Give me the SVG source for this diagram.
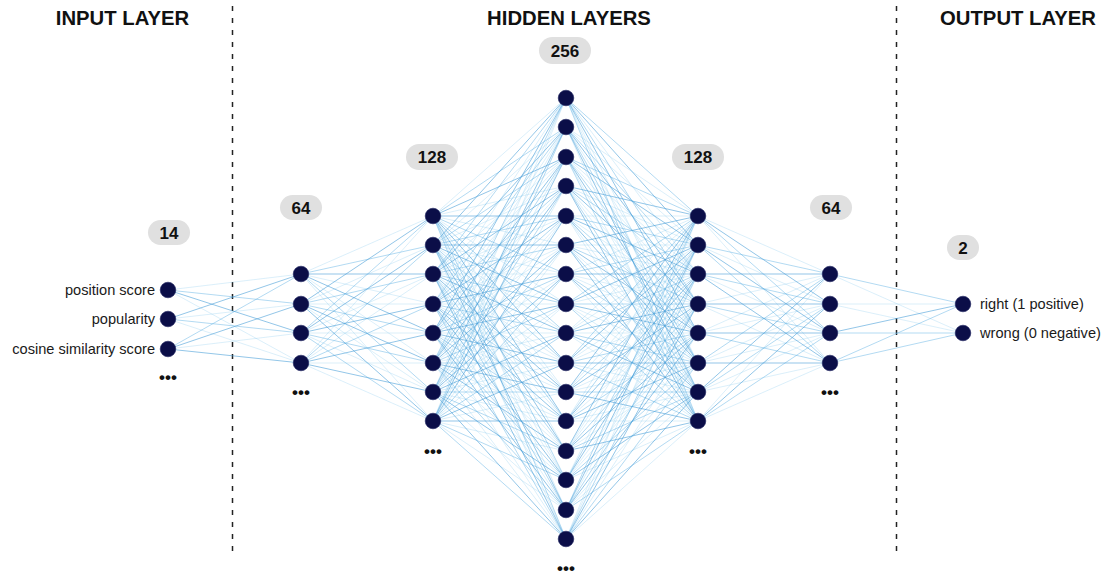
<svg xmlns="http://www.w3.org/2000/svg" width="1106" height="577" viewBox="0 0 1106 577">
  <style>
    .hdr { font-family: "Liberation Sans", Arial, sans-serif; font-weight: bold; font-size: 20.3px; fill: #111; text-anchor: middle; }
    .cnt { font-family: "Liberation Sans", Arial, sans-serif; font-weight: bold; font-size: 17px; fill: #111; text-anchor: middle; }
    .lbl { font-family: "Liberation Sans", Arial, sans-serif; font-size: 14.6px; fill: #1a1a1a; }
    .more { font-family: "Liberation Sans", Arial, sans-serif; font-weight: bold; font-size: 17px; fill: #111; text-anchor: middle; }
    .pill { fill: #e0e0e0; }
    .divider { stroke: #222; stroke-width: 1.5; stroke-dasharray: 5 7; fill: none; }
    .ea { stroke: #7cc3ec; stroke-opacity: 0.35; stroke-width: 0.8; fill: none; }
    .eb { stroke: #5fb2e4; stroke-opacity: 0.6; stroke-width: 0.8; fill: none; }
    .ec { stroke: #4a9fd8; stroke-opacity: 0.75; stroke-width: 0.8; fill: none; }
    .node circle { fill: #0b0e48; stroke: #1f2460; stroke-width: 0.6; }
  </style>
  <rect width="1106" height="577" fill="#ffffff"/>

  <!-- section dividers -->
  <line class="divider" x1="232.5" y1="6" x2="232.5" y2="556"/>
  <line class="divider" x1="896.5" y1="6" x2="896.5" y2="556"/>

  <!-- section headings -->
  <text class="hdr" x="122.5" y="25">INPUT LAYER</text>
  <text class="hdr" x="569" y="25">HIDDEN LAYERS</text>
  <text class="hdr" x="1018" y="25">OUTPUT LAYER</text>

  <!-- connections between layers -->
  <g id="connectors">
    <!-- input -> 64 -->
    <path class="ea" d="M168 290L301 274M168 290L301 363M168 319L301 304M168 319L301 363M168 349L301 333"/>
    <path class="eb" d="M168 290L301 304M168 319L301 333M168 349L301 274"/>
    <path class="ec" d="M168 290L301 333M168 319L301 274M168 349L301 304M168 349L301 363"/>
    <!-- 64 -> 128 -->
    <path class="ea" d="M301 274L433 216M301 274L433 304M301 274L433 363M301 274L433 421M301 304L433 245M301 304L433 304M301 304L433 392M301 333L433 274M301 333L433 333M301 333L433 392M301 363L433 216M301 363L433 274M301 363L433 363M301 363L433 421"/>
    <path class="eb" d="M301 274L433 245M301 274L433 392M301 304L433 274M301 304L433 333M301 333L433 216M301 333L433 363M301 333L433 421M301 363L433 245M301 363L433 304"/>
    <path class="ec" d="M301 274L433 274M301 274L433 333M301 304L433 216M301 304L433 363M301 304L433 421M301 333L433 245M301 333L433 304M301 363L433 333M301 363L433 392"/>
    <!-- 128 -> 256 -->
    <path class="ea" d="M433 216L566 98M433 216L566 186M433 216L566 245M433 216L566 304M433 216L566 392M433 216L566 451M433 216L566 510
      M433 245L566 127M433 245L566 186M433 245L566 274M433 245L566 333M433 245L566 392M433 245L566 480M433 245L566 539
      M433 274L566 157M433 274L566 216M433 274L566 274M433 274L566 363M433 274L566 421M433 274L566 480
      M433 304L566 98M433 304L566 157M433 304L566 245M433 304L566 304M433 304L566 363M433 304L566 451M433 304L566 510
      M433 333L566 127M433 333L566 186M433 333L566 245M433 333L566 333M433 333L566 392M433 333L566 451M433 333L566 539
      M433 363L566 127M433 363L566 216M433 363L566 274M433 363L566 333M433 363L566 421M433 363L566 480M433 363L566 539
      M433 392L566 98M433 392L566 157M433 392L566 216M433 392L566 304M433 392L566 363M433 392L566 421M433 392L566 510
      M433 421L566 98M433 421L566 186M433 421L566 245M433 421L566 304M433 421L566 392M433 421L566 451M433 421L566 510"/>
    <path class="eb" d="M433 216L566 127M433 216L566 274M433 216L566 333M433 216L566 480M433 216L566 539
      M433 245L566 157M433 245L566 216M433 245L566 363M433 245L566 421
      M433 274L566 98M433 274L566 245M433 274L566 304M433 274L566 451M433 274L566 510
      M433 304L566 127M433 304L566 186M433 304L566 333M433 304L566 392M433 304L566 539
      M433 333L566 216M433 333L566 274M433 333L566 421M433 333L566 480
      M433 363L566 98M433 363L566 157M433 363L566 304M433 363L566 363M433 363L566 510
      M433 392L566 186M433 392L566 245M433 392L566 392M433 392L566 451
      M433 421L566 127M433 421L566 274M433 421L566 333M433 421L566 480M433 421L566 539"/>
    <path class="ec" d="M433 216L566 157M433 216L566 216M433 216L566 363M433 216L566 421
      M433 245L566 98M433 245L566 245M433 245L566 304M433 245L566 451M433 245L566 510
      M433 274L566 127M433 274L566 186M433 274L566 333M433 274L566 392M433 274L566 539
      M433 304L566 216M433 304L566 274M433 304L566 421M433 304L566 480
      M433 333L566 98M433 333L566 157M433 333L566 304M433 333L566 363M433 333L566 510
      M433 363L566 186M433 363L566 245M433 363L566 392M433 363L566 451
      M433 392L566 127M433 392L566 274M433 392L566 333M433 392L566 480M433 392L566 539
      M433 421L566 157M433 421L566 216M433 421L566 363M433 421L566 421"/>
    <!-- 256 -> 128 -->
    <path class="ea" d="M566 98L698 274M566 98L698 363M566 98L698 392
      M566 127L698 216M566 127L698 245M566 127L698 333M566 127L698 421
      M566 157L698 274M566 157L698 304M566 157L698 392
      M566 186L698 245M566 186L698 333M566 186L698 363
      M566 216L698 216M566 216L698 304M566 216L698 392M566 216L698 421
      M566 245L698 245M566 245L698 274M566 245L698 363
      M566 274L698 216M566 274L698 304M566 274L698 333M566 274L698 421
      M566 304L698 274M566 304L698 363M566 304L698 392
      M566 333L698 216M566 333L698 245M566 333L698 333M566 333L698 421
      M566 363L698 274M566 363L698 304M566 363L698 392
      M566 392L698 245M566 392L698 333M566 392L698 363
      M566 421L698 216M566 421L698 304M566 421L698 392M566 421L698 421
      M566 451L698 245M566 451L698 274M566 451L698 363
      M566 480L698 216M566 480L698 304M566 480L698 333M566 480L698 421
      M566 510L698 274M566 510L698 363M566 510L698 392
      M566 539L698 216M566 539L698 245M566 539L698 333M566 539L698 421"/>
    <path class="eb" d="M566 98L698 216M566 98L698 304M566 98L698 421
      M566 127L698 274M566 127L698 363
      M566 157L698 216M566 157L698 333M566 157L698 421
      M566 186L698 274M566 186L698 392
      M566 216L698 245M566 216L698 333
      M566 245L698 304M566 245L698 392
      M566 274L698 245M566 274L698 363
      M566 304L698 216M566 304L698 304M566 304L698 421
      M566 333L698 274M566 333L698 363
      M566 363L698 216M566 363L698 333M566 363L698 421
      M566 392L698 274M566 392L698 392
      M566 421L698 245M566 421L698 333
      M566 451L698 304M566 451L698 392
      M566 480L698 245M566 480L698 363
      M566 510L698 216M566 510L698 304M566 510L698 421
      M566 539L698 274M566 539L698 363"/>
    <path class="ec" d="M566 98L698 245M566 98L698 333
      M566 127L698 304M566 127L698 392
      M566 157L698 245M566 157L698 363
      M566 186L698 216M566 186L698 304M566 186L698 421
      M566 216L698 274M566 216L698 363
      M566 245L698 216M566 245L698 333M566 245L698 421
      M566 274L698 274M566 274L698 392
      M566 304L698 245M566 304L698 333
      M566 333L698 304M566 333L698 392
      M566 363L698 245M566 363L698 363
      M566 392L698 216M566 392L698 304M566 392L698 421
      M566 421L698 274M566 421L698 363
      M566 451L698 216M566 451L698 333M566 451L698 421
      M566 480L698 274M566 480L698 392
      M566 510L698 245M566 510L698 333
      M566 539L698 304M566 539L698 392"/>
    <!-- 128 -> 64 -->
    <path class="ea" d="M698 216L830 274M698 216L830 363M698 245L830 304M698 274L830 333M698 304L830 274M698 304L830 363M698 333L830 274M698 333L830 304M698 363L830 304M698 363L830 333M698 392L830 333M698 392L830 363M698 421L830 274M698 421L830 363"/>
    <path class="eb" d="M698 216L830 333M698 245L830 274M698 245L830 363M698 274L830 304M698 304L830 333M698 333L830 363M698 363L830 274M698 392L830 304M698 421L830 333"/>
    <path class="ec" d="M698 216L830 304M698 245L830 333M698 274L830 274M698 274L830 363M698 304L830 304M698 333L830 333M698 363L830 363M698 392L830 274M698 421L830 304"/>
    <!-- 64 -> output -->
    <path class="ea" d="M830 274L963 333M830 304L963 304M830 304L963 333"/>
    <path class="eb" d="M830 274L963 304M830 333L963 333M830 363L963 304M830 363L963 333"/>
    <path class="ec" d="M830 333L963 304"/>
  </g>

  <!-- input layer -->
  <g id="layer-input" class="node">
    <rect class="pill" x="148" y="220" width="42" height="25" rx="12.5"/>
    <text class="cnt" x="169" y="238.5">14</text>
    <circle cx="168" cy="290" r="7.8"/>
    <circle cx="168" cy="319" r="7.8"/>
    <circle cx="168" cy="349" r="7.8"/>
    <text class="lbl" x="155" y="295" text-anchor="end">position score</text>
    <text class="lbl" x="155" y="324" text-anchor="end">popularity</text>
    <text class="lbl" x="155" y="354" text-anchor="end">cosine similarity score</text>
    <text class="more" x="168" y="383">•••</text>
  </g>

  <!-- hidden layer 1 -->
  <g id="layer-hidden-64a" class="node">
    <rect class="pill" x="280" y="195" width="42" height="25" rx="12.5"/>
    <text class="cnt" x="301" y="213.5">64</text>
    <circle cx="301" cy="274" r="7.8"/>
    <circle cx="301" cy="304" r="7.8"/>
    <circle cx="301" cy="333" r="7.8"/>
    <circle cx="301" cy="363" r="7.8"/>
    <text class="more" x="301" y="398">•••</text>
  </g>

  <!-- hidden layer 2 -->
  <g id="layer-hidden-128a" class="node">
    <rect class="pill" x="406" y="144" width="52" height="26" rx="13"/>
    <text class="cnt" x="432" y="163">128</text>
    <circle cx="433" cy="216" r="7.8"/>
    <circle cx="433" cy="245" r="7.8"/>
    <circle cx="433" cy="274" r="7.8"/>
    <circle cx="433" cy="304" r="7.8"/>
    <circle cx="433" cy="333" r="7.8"/>
    <circle cx="433" cy="363" r="7.8"/>
    <circle cx="433" cy="392" r="7.8"/>
    <circle cx="433" cy="421" r="7.8"/>
    <text class="more" x="433" y="457">•••</text>
  </g>

  <!-- hidden layer 3 -->
  <g id="layer-hidden-256" class="node">
    <rect class="pill" x="539" y="37" width="52" height="27" rx="13.5"/>
    <text class="cnt" x="565" y="56.5">256</text>
    <circle cx="566" cy="98" r="7.8"/>
    <circle cx="566" cy="127" r="7.8"/>
    <circle cx="566" cy="157" r="7.8"/>
    <circle cx="566" cy="186" r="7.8"/>
    <circle cx="566" cy="216" r="7.8"/>
    <circle cx="566" cy="245" r="7.8"/>
    <circle cx="566" cy="274" r="7.8"/>
    <circle cx="566" cy="304" r="7.8"/>
    <circle cx="566" cy="333" r="7.8"/>
    <circle cx="566" cy="363" r="7.8"/>
    <circle cx="566" cy="392" r="7.8"/>
    <circle cx="566" cy="421" r="7.8"/>
    <circle cx="566" cy="451" r="7.8"/>
    <circle cx="566" cy="480" r="7.8"/>
    <circle cx="566" cy="510" r="7.8"/>
    <circle cx="566" cy="539" r="7.8"/>
    <text class="more" x="566" y="574">•••</text>
  </g>

  <!-- hidden layer 4 -->
  <g id="layer-hidden-128b" class="node">
    <rect class="pill" x="672" y="144" width="52" height="26" rx="13"/>
    <text class="cnt" x="698" y="163">128</text>
    <circle cx="698" cy="216" r="7.8"/>
    <circle cx="698" cy="245" r="7.8"/>
    <circle cx="698" cy="274" r="7.8"/>
    <circle cx="698" cy="304" r="7.8"/>
    <circle cx="698" cy="333" r="7.8"/>
    <circle cx="698" cy="363" r="7.8"/>
    <circle cx="698" cy="392" r="7.8"/>
    <circle cx="698" cy="421" r="7.8"/>
    <text class="more" x="698" y="457">•••</text>
  </g>

  <!-- hidden layer 5 -->
  <g id="layer-hidden-64b" class="node">
    <rect class="pill" x="810" y="195" width="42" height="25" rx="12.5"/>
    <text class="cnt" x="831" y="213.5">64</text>
    <circle cx="830" cy="274" r="7.8"/>
    <circle cx="830" cy="304" r="7.8"/>
    <circle cx="830" cy="333" r="7.8"/>
    <circle cx="830" cy="363" r="7.8"/>
    <text class="more" x="830" y="398">•••</text>
  </g>

  <!-- output layer -->
  <g id="layer-output" class="node">
    <rect class="pill" x="947" y="235" width="32" height="25" rx="12.5"/>
    <text class="cnt" x="963" y="253.5">2</text>
    <circle cx="963" cy="304" r="7.8"/>
    <circle cx="963" cy="333" r="7.8"/>
    <text class="lbl" x="980" y="309">right (1 positive)</text>
    <text class="lbl" x="980" y="338">wrong (0 negative)</text>
  </g>
</svg>
